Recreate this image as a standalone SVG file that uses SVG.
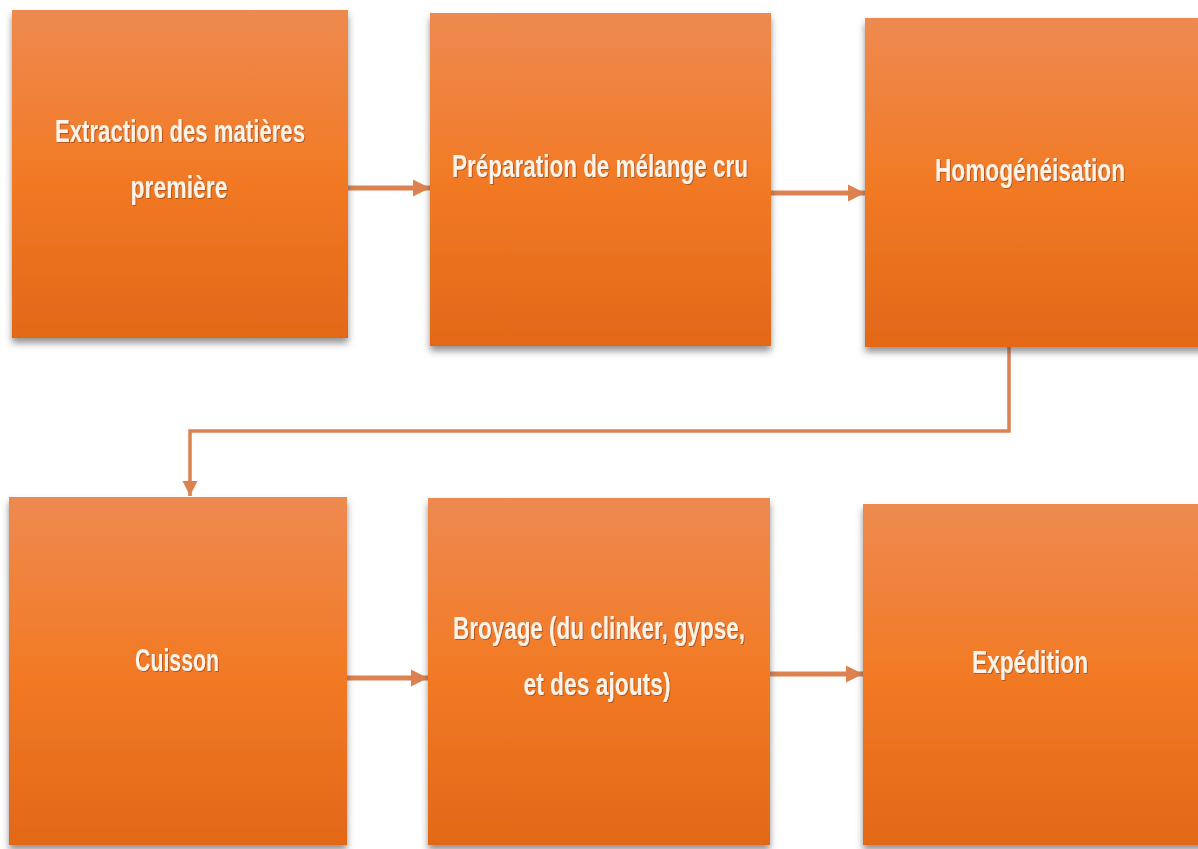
<svg xmlns="http://www.w3.org/2000/svg" width="1198" height="849" viewBox="0 0 1198 849">
  <defs>
    <linearGradient id="boxFill" x1="0" y1="0" x2="0" y2="1">
      <stop offset="0" stop-color="#EE8A50"/>
      <stop offset="0.5" stop-color="#F27A25"/>
      <stop offset="1" stop-color="#E26818"/>
    </linearGradient>
    <filter id="shadow" x="-10%" y="-10%" width="120%" height="120%">
      <feDropShadow dx="0" dy="5" stdDeviation="3.5" flood-color="#4A4A4A" flood-opacity="0.6"/>
    </filter>
    <filter id="textShadow" x="-5%" y="-20%" width="110%" height="140%">
      <feDropShadow dx="1" dy="1" stdDeviation="0.6" flood-color="#8A3E0C" flood-opacity="0.6"/>
    </filter>
    <marker id="arrowHead" viewBox="0 0 10 10" refX="10" refY="5" markerWidth="3.4" markerHeight="3.8" markerUnits="strokeWidth" orient="auto">
      <path d="M0,0 L10,5 L0,10 Z" fill="#DB8250"/>
    </marker>
    <marker id="arrowHeadThin" viewBox="0 0 10 10" refX="10" refY="5" markerWidth="4.4" markerHeight="4.6" markerUnits="strokeWidth" orient="auto">
      <path d="M0,0 L10,5 L0,10 Z" fill="#DB8250"/>
    </marker>
  </defs>
  <style>
    .box { fill: url(#boxFill); filter: url(#shadow); }
    .label { font-family: "Liberation Sans", Arial, sans-serif; font-weight: bold; font-size: 31px; fill: #FDF3E8; filter: url(#textShadow); }
    .conn { fill: none; stroke: #DB8250; stroke-width: 5; }
    .connThin { fill: none; stroke: #DB8250; stroke-width: 3.5; }
  </style>

  <rect width="1198" height="849" fill="#FFFFFF"/>

  <!-- connectors -->
  <g id="connectors">
    <line class="conn" x1="348" y1="188" x2="430" y2="188" marker-end="url(#arrowHead)"/>
    <line class="conn" x1="771" y1="193" x2="865" y2="193" marker-end="url(#arrowHead)"/>
    <polyline class="connThin" points="1009,347 1009,431 190,431 190,496" marker-end="url(#arrowHeadThin)"/>
    <line class="conn" x1="347" y1="678" x2="428" y2="678" marker-end="url(#arrowHead)"/>
    <line class="conn" x1="770" y1="674" x2="863" y2="674" marker-end="url(#arrowHead)"/>
  </g>

  <!-- process steps -->
  <g id="extraction">
    <rect class="box" x="12" y="10" width="336" height="328"/>
    <text class="label" x="180" y="142" text-anchor="middle" textLength="250" lengthAdjust="spacingAndGlyphs">Extraction des matières</text>
    <text class="label" x="179" y="198" text-anchor="middle" textLength="97" lengthAdjust="spacingAndGlyphs">première</text>
  </g>

  <g id="preparation">
    <rect class="box" x="430" y="13" width="341" height="333"/>
    <text class="label" x="600" y="177" text-anchor="middle" textLength="296" lengthAdjust="spacingAndGlyphs">Préparation de mélange cru</text>
  </g>

  <g id="homogeneisation">
    <rect class="box" x="865" y="18" width="345" height="329"/>
    <text class="label" x="1030" y="181" text-anchor="middle" textLength="190" lengthAdjust="spacingAndGlyphs">Homogénéisation</text>
  </g>

  <g id="cuisson">
    <rect class="box" x="9" y="497" width="338" height="348"/>
    <text class="label" x="177" y="671" text-anchor="middle" textLength="84" lengthAdjust="spacingAndGlyphs">Cuisson</text>
  </g>

  <g id="broyage">
    <rect class="box" x="428" y="498" width="342" height="347"/>
    <text class="label" x="599" y="639" text-anchor="middle" textLength="292" lengthAdjust="spacingAndGlyphs">Broyage (du clinker, gypse,</text>
    <text class="label" x="597" y="695" text-anchor="middle" textLength="147" lengthAdjust="spacingAndGlyphs">et des ajouts)</text>
  </g>

  <g id="expedition">
    <rect class="box" x="863" y="504" width="347" height="341"/>
    <text class="label" x="1030" y="673" text-anchor="middle" textLength="116" lengthAdjust="spacingAndGlyphs">Expédition</text>
  </g>
</svg>
